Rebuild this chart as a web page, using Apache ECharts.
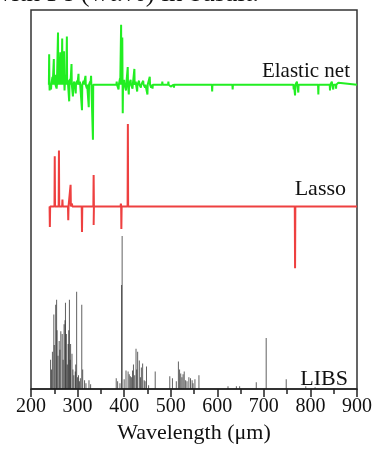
<!DOCTYPE html>
<html>
<head>
<meta charset="utf-8">
<script src="https://cdn.jsdelivr.net/npm/echarts@6/dist/echarts.min.js"></script>
<style>
    html, body { margin: 0; padding: 0; background: #fff; }
    #chart { width: 375px; height: 449px; }
</style>
</head>
<body>
<div id="chart"></div>
<script>
// wavelength ticks
var xTicks = [200, 300, 400, 500, 600, 700, 800, 900];

// elastic net coefficients (a.u.)
var enWave = [239, 240, 243, 246, 249, 252, 255, 258, 260, 263, 265, 267, 269, 271, 272, 275, 277, 279, 282, 284,
    287, 290, 293, 296, 299, 302, 305, 309.5, 313, 317, 320, 324, 327, 329, 331, 333,
    384, 388, 391, 393.5, 395, 396, 397, 400, 404, 407.7, 410, 414, 418, 422, 425, 428, 432, 436,
    441, 445, 450, 455, 458, 461, 470, 482, 490, 495, 500, 507, 515, 589, 633, 700, 764, 767,
    771, 774, 817, 825, 842, 846, 849, 855, 860, 900];
var enCoef = [31, -6, -5, 8, 26, 10, -4, 53, 15, 33, 5, 47, 12, 34, -6, 10, 49, 5, -17, 6,
    21, -12, 3, -9, 4, 11, 3, -26, 4, 9, -4, -23, 3, 9, 2, -56,
    3, -5, 6, 61, 10, 48, -29, 5, -6, 18, -10, 5, -4, 16, 3, -7, 4, -3,
    4, -3, -10, 8, -3, -4, 2, 3, -2, 3, -2, -3, -2, -7, -5, 1, -5, -11,
    3, -8, -10, -2, -6, 3, -5, -4, 2, 0];

// lasso coefficients (a.u.)
var lassoWave = [240.5, 251, 260, 267.5, 280, 285, 288, 309.5, 334.5, 334.5, 393, 394, 408, 767, 900];
var lassoCoef = [-21, 51, 57, 7, -14, 22, 3, -26, 32, -19, 3, -23, 84, -63, 0];

// LIBS spectrum lines (a.u.)
var libsWave = [242, 244, 246, 249, 250, 253, 255, 256, 258, 260.5, 262, 264, 267, 269, 271, 273, 274, 276,
    278, 279.7, 281, 282.5, 284, 285, 288, 290, 292, 295, 296, 298, 300, 302, 304, 306, 309, 311, 315, 318,
    324.5, 328, 383, 386, 391, 394.5, 395.7, 400, 404, 408.5, 411, 413.4, 416, 418, 420, 422.6, 425.5,
    427, 429, 432.6, 435, 437, 439.7, 443, 445, 448, 452.5, 466.7, 498, 503.7, 512, 516.5, 519, 521.5,
    524, 526.5, 529, 532, 535, 539, 542.5, 546, 548, 552, 560.6, 623, 641, 648, 683.7, 705, 748, 790, 810];
var libsInt = [30, 20, 38, 76, 45, 86, 91, 60, 34, 49, 40, 59, 56, 30, 66, 70, 88, 56,
    25, 46, 60, 91, 30, 46, 36, 20, 14, 18, 25, 99, 12, 14, 8, 11, 86, 20, 9, 6,
    9, 5, 11, 8, 6, 106, 156, 10, 19, 18, 15, 13, 12, 19, 25, 14, 41,
    20, 38, 29, 12, 22, 26, 9, 8, 23, 4, 18, 13, 11, 8, 28, 20, 16,
    12, 15, 18, 9, 8, 12, 11, 9, 6, 10, 14, 3, 3, 3, 7, 52, 10, 3, 2];

// baselines of the stacked traces
var libsOffset = 0;
var lassoOffset = 186;
var enOffset = 310;

function spikeLine(wave, coef, offset) {
    var out = [];
    for (var i = 0; i < wave.length; i++) {
        if (coef[i] === 0) {
            out.push([wave[i], offset]);
            continue;
        }
        out.push([wave[i] - 0.6, offset]);
        out.push([wave[i], offset + coef[i]]);
        out.push([wave[i] + 0.6, offset]);
    }
    return out;
}

var libsData = [];
for (var i = 0; i < libsWave.length; i++) {
    libsData.push([libsWave[i], libsOffset + libsInt[i]]);
}

var serif = "Liberation Serif";
var myChart = echarts.init(document.getElementById('chart'));
var option = {
    animation: false,
    backgroundColor: '#fff',
    grid: {
        left: 31, right: 16, top: 10, bottom: 53,
        show: true,
        borderColor: '#333',
        borderWidth: 1.5
    },
    xAxis: {
        type: 'value',
        min: xTicks[0],
        max: xTicks[xTicks.length - 1],
        interval: 100,
        axisLine: { lineStyle: { color: '#222', width: 1.5 } },
        axisTick: { inside: false, length: 8, lineStyle: { color: '#222', width: 1.5 } },
        minorTick: { show: true, splitNumber: 2, length: 5, lineStyle: { color: '#222', width: 1.5 } },
        splitLine: { show: false },
        axisLabel: { fontFamily: serif, fontSize: 20, color: '#111', margin: 8 },
        name: 'Wavelength (μm)',
        nameLocation: 'middle',
        nameGap: 25,
        nameTextStyle: { fontFamily: serif, fontSize: 22, color: '#111' }
    },
    yAxis: {
        type: 'value',
        min: 0,
        max: 386,
        show: false
    },
    graphic: [
        { type: 'text', left: -8, top: -20, style: { text: 'with Fe (wt.%) in basalt.', font: '27px "Liberation Serif"', fill: '#111' } },
        { type: 'text', right: 25, top: 61, style: { text: 'Elastic net', font: '21px "Liberation Serif"', fill: '#111' } },
        { type: 'text', right: 29, top: 178, style: { text: 'Lasso', font: '22px "Liberation Serif"', fill: '#111' } },
        { type: 'text', right: 27, top: 368, style: { text: 'LIBS', font: '22px "Liberation Serif"', fill: '#111' } }
    ],
    series: [
        {
            name: 'LIBS',
            type: 'bar',
            data: libsData,
            barWidth: 1,
            itemStyle: { color: 'rgba(30,30,30,0.7)' },
            z: 1
        },
        {
            name: 'Lasso',
            type: 'line',
            data: spikeLine(lassoWave, lassoCoef, lassoOffset),
            showSymbol: false,
            lineStyle: { color: '#ee4040', width: 2 },
            z: 2
        },
        {
            name: 'Elastic net',
            type: 'line',
            data: spikeLine(enWave, enCoef, enOffset),
            showSymbol: false,
            lineStyle: { color: '#22ee22', width: 2 },
            z: 3
        }
    ]
};
myChart.setOption(option);
</script>
</body>
</html>
